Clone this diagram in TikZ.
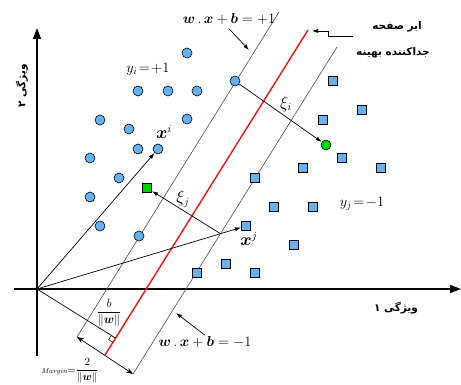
\documentclass[tikz,border=0pt]{standalone}
\usepackage{amsmath}
\usepackage{fontspec}
\usepackage{bm}
\usetikzlibrary{arrows.meta,calc}
\newfontfamily\farsi[Script=Arabic]{DejaVu Sans}
\TeXXeTstate=1
\definecolor{ptblue}{HTML}{62B2F4}
\definecolor{ptgreen}{HTML}{00D400}
\definecolor{hyper}{HTML}{FF1010}

\begin{document}
\begin{tikzpicture}[x=1pt,y=-1pt,
    posdot/.style={circle,draw,fill=ptblue,inner sep=0pt,minimum size=10pt,line width=0.6pt},
    negsq/.style={rectangle,draw,fill=ptblue,inner sep=0pt,minimum size=9.5pt,line width=0.6pt},
    marg/.style={draw=black!70,line width=0.6pt},
    vec/.style={-{Latex[length=6pt,width=4pt]},line width=0.7pt},
    axis/.style={-{Triangle[length=11pt,width=8pt]},line width=1.5pt},
    fa/.style={font=\farsi\bfseries\fontsize{10.5}{12}\selectfont,inner sep=1pt},
    mlbl/.style={font=\fontsize{16}{18}\selectfont,inner sep=1pt}]
    \useasboundingbox (0,0) rectangle (461,385);

    % axes
    \coordinate (O) at (37,289);
    \coordinate (ybot) at (37,356);
    \coordinate (ytop) at (37,28);
    \coordinate (xleft) at (14,289);
    \coordinate (xright) at (461,289);
    \draw[axis] (ybot) -- (ytop);
    \draw[axis] (xleft) -- (xright);
    \node[fa,rotate=90] (f2) at (22,86) {\beginR ویژگی ۲\endR};
    \node[fa] (f1) at (396,308) {\beginR ویژگی ۱\endR};

    % margins and separating hyperplane
    \coordinate (U1) at (77,337);  \coordinate (U2) at (279,12);
    \coordinate (R1) at (105,355); \coordinate (R2) at (308,30);
    \coordinate (L1) at (133,374); \coordinate (L2) at (337,47);
    \draw[marg] (U1) -- (U2);
    \draw[marg] (L1) -- (L2);
    \draw[hyper,line width=1.4pt] (R1) -- (R2);
    \draw[{Stealth[length=7pt]}-{Stealth[length=7pt]},line width=0.7pt] (U1) -- (L1);

    % class +1
    \node[posdot] (p1) at (187,53) {};
    \node[posdot] (p2) at (138,91) {};
    \node[posdot] (p3) at (168,91) {};
    \node[posdot] (p4) at (197,91) {};
    \node[posdot] (p5) at (100,120) {};
    \node[posdot] (p6) at (187,119) {};
    \node[posdot] (p7) at (129,129) {};
    \node[posdot] (p8) at (138,149) {};
    \node[posdot] (p9) at (158,149) {};
    \node[posdot] (p10) at (90,158) {};
    \node[posdot] (p11) at (119,178) {};
    \node[posdot] (p12) at (90,197) {};
    \node[posdot] (p13) at (100,226) {};
    \node[posdot] (p14) at (139,236) {};
    \node[posdot] (pm) at (235,81) {};
    \node[posdot,fill=ptgreen] (gi) at (326,145) {};

    % class -1
    \node[negsq] (n1) at (333,81) {};
    \node[negsq] (n2) at (362,110) {};
    \node[negsq] (n3) at (323,120) {};
    \node[negsq] (n4) at (342,158) {};
    \node[negsq] (n5) at (303,168) {};
    \node[negsq] (n6) at (381,168) {};
    \node[negsq] (n7) at (255,178) {};
    \node[negsq] (n8) at (274,207) {};
    \node[negsq] (n9) at (313,207) {};
    \node[negsq] (sj) at (246,226) {};
    \node[negsq] (n10) at (294,245) {};
    \node[negsq] (n11) at (255,273) {};
    \node[negsq] (n12) at (197,273) {};
    \node[negsq] (n13) at (226,264) {};
    \node[negsq,fill=ptgreen] (gj) at (147,188) {};

    % vectors and slacks
    \draw[vec] (O) -- (p9);
    \draw[vec] (O) -- (sj);
    \coordinate (J) at (intersection of L1--L2 and O--sj);
    \draw[vec] (J) -- (gj);
    \draw[vec] (pm) -- (gi);
    \coordinate (F) at ($(R1)!(O)!(R2)$);
    \draw[line width=0.7pt] (O) -- (F);
    \coordinate (ra) at ($(F)!5pt!(O)$);
    \coordinate (rb) at ($(F)!5pt!(R1)$);
    \draw[line width=0.5pt] (ra) -- ($(ra)+(rb)-(F)$) -- (rb);

    % labels
    \node[mlbl] (xi) at (164,132) {$\bm{x}^{i}$};
    \node[mlbl] (xj) at (249,239) {$\bm{x}^{j}$};
    \node[mlbl] (ksi) at (286,104) {$\xi_i$};
    \node[mlbl] (ksj) at (183,199) {$\xi_j$};
    \node[mlbl,font=\fontsize{14}{16}\selectfont] (yi) at (148,69) {$y_i\!=\!+1$};
    \node[mlbl,font=\fontsize{14}{16}\selectfont] (yj) at (362,204) {$y_j\!=\!-1$};
    \node[font=\fontsize{12}{14}\selectfont,inner sep=1pt] (bw) at (109,313) {$\dfrac{b}{\|\bm{w}\|}$};
    \node[font=\fontsize{11}{13}\selectfont,inner sep=1pt] (mg) at (70,371) {{\scriptsize$\mathit{Margin}$}${=}\dfrac{2}{\|\bm{w}\|}$};
    \node[mlbl,font=\fontsize{14.5}{16}\selectfont] (wp) at (229,19) {$\bm{w}\,.\,\bm{x}+\bm{b}=+1$};
    \node[mlbl,font=\fontsize{14.5}{16}\selectfont] (wm) at (205,342) {$\bm{w}\,.\,\bm{x}+\bm{b}=-1$};
    \coordinate (tp) at (249,50);
    \coordinate (tm) at (176,313);
    \draw[vec] ([yshift=-3pt]wp.south) -- (tp);
    \draw[vec] (wm.north) -- (tm);

    % hyperplane label
    \node[fa] (hp1) at (397,27) {\beginR ابر صفحه\endR};
    \node[fa] (hp2) at (393,53) {\beginR جداکننده بهینه\endR};
    \coordinate (h1) at (353,36);
    \coordinate (ht) at (312,31);
    \draw[vec] (h1) -- ++(-25,0) |- (ht);
\end{tikzpicture}
\end{document}
